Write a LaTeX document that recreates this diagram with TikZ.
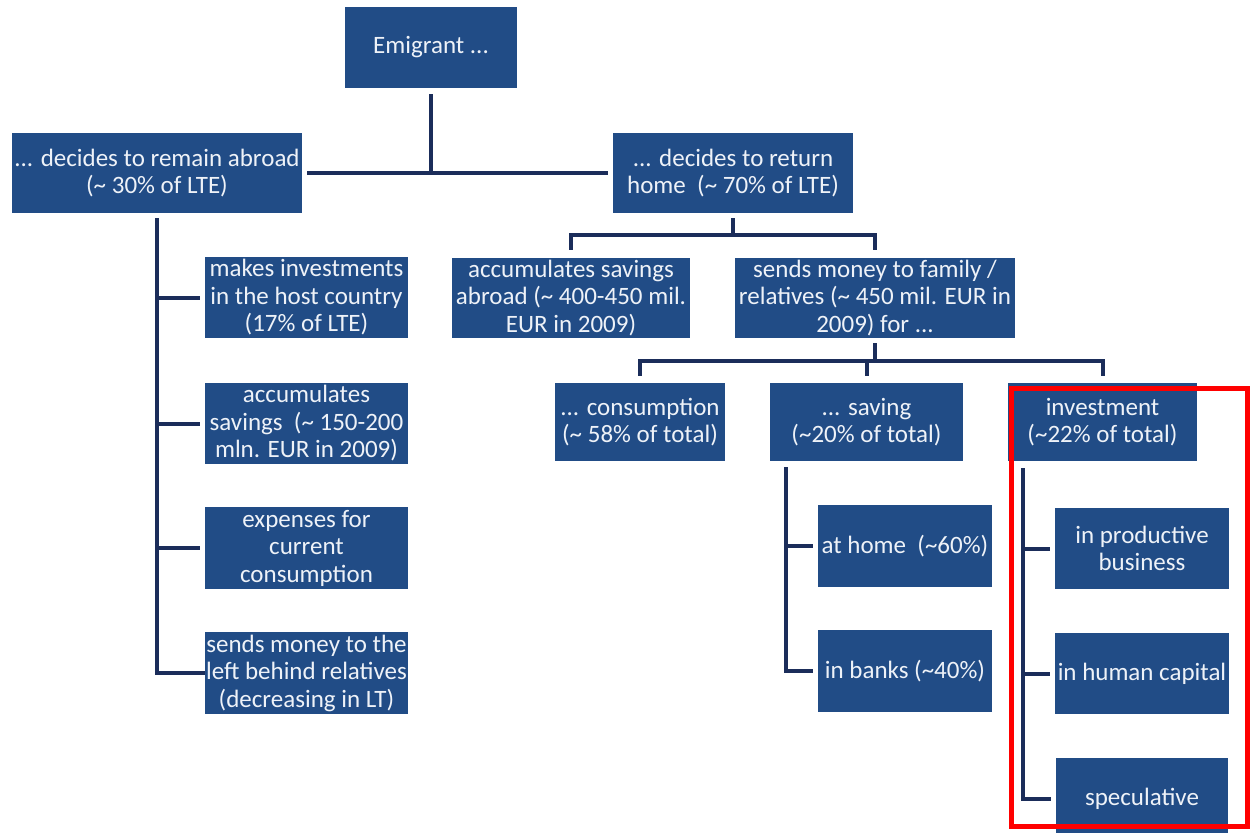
\documentclass[tikz,border=0pt]{standalone}
\usepackage{fontspec}
\setmainfont{Carlito}
\newcommand{\mytilde}{\textasciitilde}
\definecolor{boxblue}{RGB}{33,76,134}
\definecolor{linenavy}{RGB}{27,45,90}
\definecolor{txtcol}{RGB}{238,242,248}
\begin{document}
\begin{tikzpicture}[x=1pt,y=-1pt,
  box/.style={fill=boxblue, text=txtcol, align=center, inner sep=0pt,
    font=\fontsize{25}{27.5}\selectfont},
  conn/.style={draw=linenavy, line width=4pt, line join=miter},
  hlbox/.style={draw=red, line width=5pt, inner sep=0pt}]
\useasboundingbox (0,0) rectangle (1251,833);
\clip (0,0) rectangle (1251,833);
\fill[white] (0,0) rectangle (1251,833);

% level 0-1
\node[box, minimum width=172pt, minimum height=81pt] (emig) at (431,47.5) {Emigrant ...};
\node[box, minimum width=290pt, minimum height=80pt] (remain) at (157,173) {... decides to remain abroad\\(\mytilde{} 30\% of LTE)};
\node[box, minimum width=240pt, minimum height=80pt] (ret) at (733,173) {... decides to return\\home\ \ (\mytilde{} 70\% of LTE)};

% left column
\node[box, minimum width=203pt, minimum height=81pt] (inv1) at (306.5,297.5) {makes investments\\in the host country\\(17\% of LTE)};
\node[box, minimum width=203pt, minimum height=81pt] (sav1) at (306.5,423.5) {accumulates\\savings\ \ (\mytilde{} 150-200\\mln. EUR in 2009)};
\node[box, minimum width=203pt, minimum height=82pt] (exp1) at (306.5,548) {expenses for\\current\\consumption};
\node[box, minimum width=203pt, minimum height=82pt] (send1) at (306.5,673) {sends money to the\\left behind relatives\\(decreasing in LT)};

% return branch
\node[box, minimum width=238pt, minimum height=80pt] (accum) at (571,298) {accumulates savings\\abroad (\mytilde{} 400-450 mil.\\EUR in 2009)};
\node[box, minimum width=280pt, minimum height=80pt] (sends) at (875,298) {sends money to family /\\relatives (\mytilde{} 450 mil. EUR in\\2009) for ...};

\node[box, minimum width=170pt, minimum height=78pt] (cons) at (640,422) {... consumption\\(\mytilde{} 58\% of total)};
\node[box, minimum width=193pt, minimum height=78pt] (saving) at (866.5,422) {... saving\\(\mytilde20\% of total)};
\node[box, minimum width=189pt, minimum height=78pt] (invest) at (1102.5,422) {investment\\(\mytilde22\% of total)};

\node[box, minimum width=174pt, minimum height=82pt] (athome) at (905,546) {at home\ \ (\mytilde60\%)};
\node[box, minimum width=174pt, minimum height=82pt] (banks) at (905,671) {in banks (\mytilde40\%)};

\node[box, minimum width=174pt, minimum height=81pt] (prod) at (1142,548.5) {in productive\\business};
\node[box, minimum width=174pt, minimum height=81pt] (human) at (1142,673.5) {in human capital};
\node[box, minimum width=172pt, minimum height=82pt] (spec) at (1142,799) {speculative};

% connectors
\draw[conn, shorten <=6pt] (emig.south) -- (emig.south |- remain.east);
\draw[conn, shorten <=5pt, shorten >=5pt] (remain.east) -- (ret.west);

% left column
\draw[conn, shorten <=5pt] (remain.south) -- (remain.south |- send1.west) -- (send1.west);
\draw[conn, shorten >=5pt] (remain.south |- inv1.west) -- (inv1.west);
\draw[conn, shorten >=5pt] (remain.south |- sav1.west) -- (sav1.west);
\draw[conn, shorten >=5pt] (remain.south |- exp1.west) -- (exp1.west);

% return branch
\coordinate (j1) at (733,235);
\draw[conn, shorten <=5pt] (ret.south) -- (ret.south |- j1);
\draw[conn, shorten <=8pt, shorten >=8pt] (accum.north) -- (accum.north |- j1) -- (sends.north |- j1) -- (sends.north);

\coordinate (j2) at (873,361);
\draw[conn, shorten <=5pt] (sends.south) -- (sends.south |- j2);
\draw[conn, shorten <=7pt, shorten >=7pt] (cons.north) -- (cons.north |- j2) -- (invest.north |- j2) -- (invest.north);
\draw[conn, shorten >=7pt] (saving.north |- j2) -- (saving.north);

% saving sub-branch
\coordinate (sv) at ([xshift=16pt]saving.south west);
\draw[conn, shorten <=6pt, shorten >=5pt] (sv) -- (sv |- banks.west) -- (banks.west);
\draw[conn, shorten >=5pt] (sv |- athome.west) -- (athome.west);

% investment sub-branch
\coordinate (iv) at ([xshift=15pt]invest.south west);
\draw[conn, shorten <=7pt, shorten >=5pt] (iv) -- (iv |- spec.west) -- (spec.west);
\draw[conn, shorten >=5pt] (iv |- prod.west) -- (prod.west);
\draw[conn, shorten >=5pt] (iv |- human.west) -- (human.west);

% highlight frame
\node[hlbox, minimum width=236pt, minimum height=438pt] (frame) at (1129,607) {};
\end{tikzpicture}
\end{document}
